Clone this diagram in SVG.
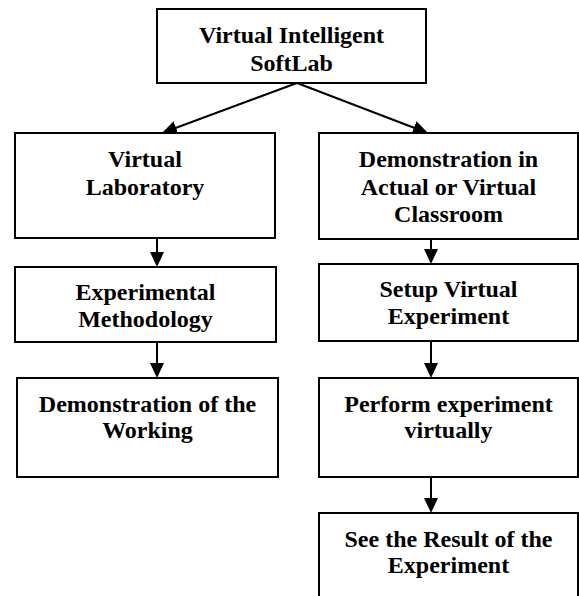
<svg xmlns="http://www.w3.org/2000/svg" width="579" height="596" viewBox="0 0 579 596">
  <style>
    .box { fill: #ffffff; stroke: #000000; stroke-width: 2; }
    .label { font-family: "Liberation Serif", "Times New Roman", serif; font-weight: bold; font-size: 24px; fill: #000000; text-anchor: middle; }
    .edge { stroke: #000000; stroke-width: 2; fill: none; marker-end: url(#arrow); }
  </style>
  <defs>
    <!-- filled triangular head; the line stops 8px short of the tip -->
    <marker id="arrow" markerUnits="userSpaceOnUse" markerWidth="15" markerHeight="14" refX="7" refY="7" orient="auto">
      <path d="M0,0 L15,7 L0,14 Z" fill="#000000"/>
    </marker>
  </defs>
  <rect width="579" height="596" fill="#ffffff"/>

  <!-- connectors -->
  <g id="connectors">
    <line class="edge" x1="297" y1="83" x2="169.5" y2="130.2"/>
    <line class="edge" x1="297" y1="83" x2="420.5" y2="130.2"/>
    <line class="edge" x1="157" y1="238" x2="157" y2="259"/>
    <line class="edge" x1="431" y1="239" x2="431" y2="256"/>
    <line class="edge" x1="157" y1="342" x2="157" y2="370"/>
    <line class="edge" x1="431" y1="341" x2="431" y2="370"/>
    <line class="edge" x1="431" y1="477" x2="431" y2="505"/>
  </g>

  <g id="softlab">
    <rect class="box" x="157" y="9" width="269" height="74"/>
    <text class="label" x="291.5" y="43">Virtual Intelligent</text>
    <text class="label" x="291.5" y="71">SoftLab</text>
  </g>

  <g id="virtual-lab">
    <rect class="box" x="15" y="133" width="260" height="105"/>
    <text class="label" x="145" y="167">Virtual</text>
    <text class="label" x="145" y="195">Laboratory</text>
  </g>

  <g id="classroom-demo">
    <rect class="box" x="319" y="133" width="259" height="106"/>
    <text class="label" x="448.5" y="167">Demonstration in</text>
    <text class="label" x="448.5" y="195">Actual or Virtual</text>
    <text class="label" x="448.5" y="222">Classroom</text>
  </g>

  <g id="methodology">
    <rect class="box" x="15" y="267" width="261" height="75"/>
    <text class="label" x="145.5" y="300">Experimental</text>
    <text class="label" x="145.5" y="327">Methodology</text>
  </g>

  <g id="setup">
    <rect class="box" x="319" y="264" width="259" height="77"/>
    <text class="label" x="448.5" y="297">Setup Virtual</text>
    <text class="label" x="448.5" y="324">Experiment</text>
  </g>

  <g id="working-demo">
    <rect class="box" x="17" y="378" width="261" height="99"/>
    <text class="label" x="147.5" y="412">Demonstration of the</text>
    <text class="label" x="147.5" y="438">Working</text>
  </g>

  <g id="perform">
    <rect class="box" x="319" y="378" width="259" height="99"/>
    <text class="label" x="448.5" y="412">Perform experiment</text>
    <text class="label" x="448.5" y="438">virtually</text>
  </g>

  <g id="result">
    <rect class="box" x="319" y="513" width="259" height="100"/>
    <text class="label" x="448.5" y="547">See the Result of the</text>
    <text class="label" x="448.5" y="573">Experiment</text>
  </g>
</svg>
